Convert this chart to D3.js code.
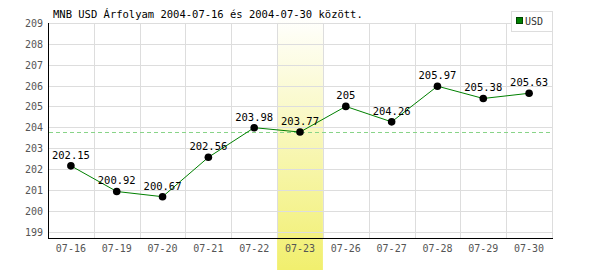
<!DOCTYPE html>
<html>
<head>
<meta charset="utf-8">
<script src="https://cdn.jsdelivr.net/npm/d3@7"></script>
<style>
  body { margin: 0; background: #fff; }
  svg { display: block; }
  text { font-family: 'DejaVu Sans Mono', monospace; }
</style>
</head>
<body>
<svg width="600" height="270"></svg>
<script>
const days = ['07-16', '07-19', '07-20', '07-21', '07-22', '07-23', '07-26', '07-27', '07-28', '07-29', '07-30'];
const rates = [202.15, 200.92, 200.67, 202.56, 203.98, 203.77, 205, 204.26, 205.97, 205.38, 205.63];
const labels = ['202.15', '200.92', '200.67', '202.56', '203.98', '203.77', '205', '204.26', '205.97', '205.38', '205.63'];
const yTicks = [199, 200, 201, 202, 203, 204, 205, 206, 207, 208, 209];
const highlightDay = '07-23';
const title = 'MNB USD Árfolyam 2004-07-16 és 2004-07-30 között.';

const svg = d3.select('svg');
const plot = { left: 48, right: 552, top: 23, bottom: 238 };

const x = d3.scaleBand().domain(days).range([plot.left, plot.right]);
const y = d3.scaleLinear().domain([198.69, 209]).range([plot.bottom, plot.top]);
const cx = d => x(d) + x.bandwidth() / 2;

const defs = svg.append('defs');
const grad = defs.append('linearGradient')
  .attr('id', 'hl')
  .attr('x1', 0).attr('y1', 0).attr('x2', 0).attr('y2', 1);
grad.append('stop').attr('offset', '0%').attr('stop-color', '#ffffff');
grad.append('stop').attr('offset', '100%').attr('stop-color', '#f1ef6e');

// highlighted day column
svg.append('rect')
  .attr('x', x(highlightDay))
  .attr('y', 15)
  .attr('width', x.bandwidth())
  .attr('height', 270 - 15)
  .attr('fill', 'url(#hl)');

// grid
svg.append('g')
  .selectAll('line')
  .data(yTicks)
  .join('line')
  .attr('x1', plot.left).attr('x2', plot.right)
  .attr('y1', d => Math.round(y(d)) + 0.5).attr('y2', d => Math.round(y(d)) + 0.5)
  .attr('stroke', '#dddddd');

svg.append('g')
  .selectAll('line')
  .data(days)
  .join('line')
  .attr('x1', d => Math.round(x(d) + x.bandwidth()) + 0.5)
  .attr('x2', d => Math.round(x(d) + x.bandwidth()) + 0.5)
  .attr('y1', plot.top).attr('y2', plot.bottom)
  .attr('stroke', '#dddddd');

// axes
svg.append('line')
  .attr('x1', plot.left + 0.5).attr('x2', plot.left + 0.5)
  .attr('y1', plot.top).attr('y2', plot.bottom + 1)
  .attr('stroke', '#000');
svg.append('line')
  .attr('x1', plot.left).attr('x2', plot.right + 1)
  .attr('y1', plot.bottom + 0.5).attr('y2', plot.bottom + 0.5)
  .attr('stroke', '#000');

svg.append('g')
  .selectAll('text')
  .data(yTicks)
  .join('text')
  .attr('x', 43)
  .attr('y', d => y(d) + 4)
  .attr('text-anchor', 'end')
  .attr('font-size', '10px')
  .attr('fill', '#555')
  .text(d => d);

svg.append('g')
  .selectAll('text')
  .data(days)
  .join('text')
  .attr('x', d => cx(d))
  .attr('y', 252)
  .attr('text-anchor', 'middle')
  .attr('font-size', '10px')
  .attr('fill', '#555')
  .text(d => d);

// reference line at highlighted day's value
const refValue = rates[days.indexOf(highlightDay)];
svg.append('line')
  .attr('x1', plot.left + 1).attr('x2', plot.right)
  .attr('y1', Math.round(y(refValue)) + 0.5).attr('y2', Math.round(y(refValue)) + 0.5)
  .attr('stroke', '#88d488')
  .attr('stroke-dasharray', '4,3');

const pts = days.map((d, i) => ({ day: d, v: rates[i], label: labels[i] }));

svg.append('path')
  .datum(pts)
  .attr('fill', 'none')
  .attr('stroke', '#008000')
  .attr('stroke-width', 1)
  .attr('d', d3.line().x(d => cx(d.day)).y(d => y(d.v)));

svg.append('g')
  .selectAll('circle')
  .data(pts)
  .join('circle')
  .attr('cx', d => cx(d.day))
  .attr('cy', d => y(d.v))
  .attr('r', 3.8)
  .attr('fill', '#000');

svg.append('g')
  .selectAll('text')
  .data(pts)
  .join('text')
  .attr('x', d => cx(d.day))
  .attr('y', d => y(d.v) - 7)
  .attr('text-anchor', 'middle')
  .attr('font-size', '10.5px')
  .attr('fill', '#000')
  .text(d => d.label);

// title
svg.append('text')
  .attr('x', 53)
  .attr('y', 18)
  .attr('font-size', '10.5px')
  .attr('fill', '#000')
  .text(title);

// legend
svg.append('rect')
  .attr('x', 511.5).attr('y', 11.5)
  .attr('width', 41).attr('height', 20)
  .attr('fill', '#fff')
  .attr('stroke', '#dddddd');
svg.append('rect')
  .attr('x', 516.5).attr('y', 17.5)
  .attr('width', 6).attr('height', 6)
  .attr('fill', '#008000')
  .attr('stroke', '#004400');
svg.append('text')
  .attr('x', 525)
  .attr('y', 25)
  .attr('font-family', 'Liberation Sans, sans-serif')
  .attr('font-size', '10px')
  .attr('fill', '#333')
  .text('USD');
</script>
</body>
</html>
